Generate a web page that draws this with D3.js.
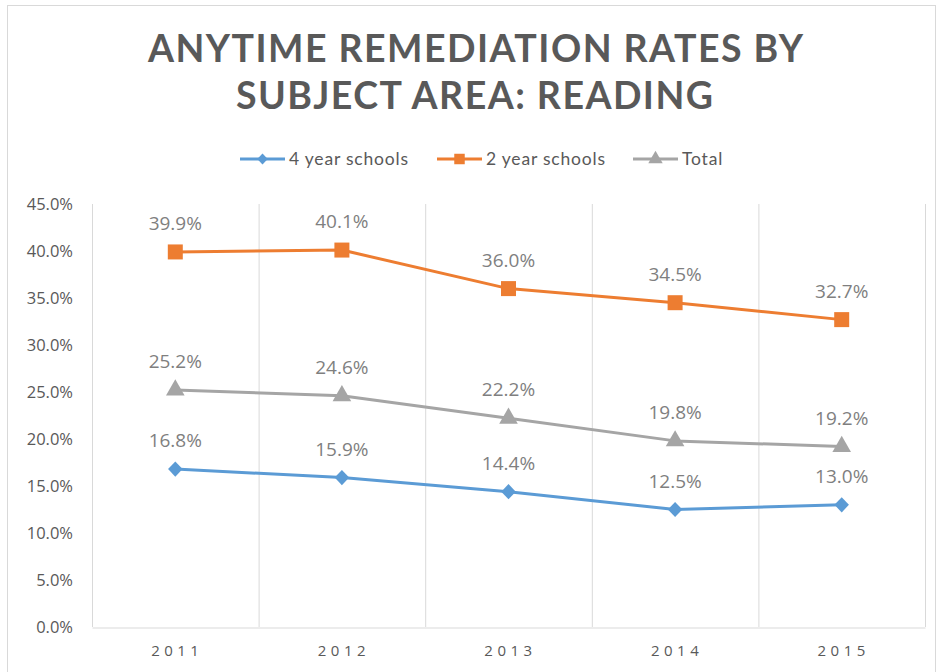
<!DOCTYPE html>
<html><head><meta charset="utf-8">
<script src="https://cdn.jsdelivr.net/npm/d3@7"></script>
<style>body{margin:0;background:#fff}svg{display:block}</style>
</head><body>
<svg id="c" width="939" height="672"></svg>
<script>
const years = ["2011","2012","2013","2014","2015"];
const fourYear = [16.8, 15.9, 14.4, 12.5, 13.0];
const twoYear = [39.9, 40.1, 36.0, 34.5, 32.7];
const total = [25.2, 24.6, 22.2, 19.8, 19.2];
const yTicks = [0,5,10,15,20,25,30,35,40,45];
const seriesNames = ["4 year schools","2 year schools","Total"];
const titleLines = ["ANYTIME REMEDIATION RATES BY","SUBJECT AREA: READING"];

const colors = ["#5B9BD5","#ED7D31","#A5A5A5"];
const diamond = {draw(ctx, size){const r=Math.sqrt(size)/2*1.0; ctx.moveTo(0,-r*1.05); ctx.lineTo(r,0); ctx.lineTo(0,r*1.05); ctx.lineTo(-r,0); ctx.closePath();}};
const shapes = [diamond, d3.symbolSquare, d3.symbolTriangle];
const series = [fourYear, twoYear, total].map((v,i)=>({name:seriesNames[i], values:v, color:colors[i], shape:shapes[i]}));

const svg = d3.select("#c");
const font = "'Open Sans', 'Liberation Sans', sans-serif";

svg.append("rect").attr("x",7.5).attr("y",5.5).attr("width",928).attr("height",680)
  .attr("fill","#fff").attr("stroke","#d9d9d9");

// title
const tl = svg.append("g");
const tStart = [148, 236], tLen = [655, 477], tBase = [62, 109];
titleLines.forEach((t,i)=>{
  tl.append("text").attr("x",tStart[i]).attr("y",tBase[i])
    .attr("font-family","Lato, 'Open Sans', sans-serif").attr("font-weight","bold")
    .attr("font-size",37.5).attr("fill","#595959")
    .attr("textLength", tLen[i]).attr("lengthAdjust","spacing").text(t);
});

const margin = {l:92, r:925, t:204, b:627};
const x = d3.scaleBand().domain(years).range([margin.l, margin.r]);
const y = d3.scaleLinear().domain([0,45]).range([margin.b, margin.t]);

// vertical gridlines at category boundaries
const bounds = years.map(d=>x(d)).concat([margin.r]);
svg.append("g").selectAll("line").data(bounds).join("line")
  .attr("x1",d=>d+0.5).attr("x2",d=>d+0.5).attr("y1",margin.t).attr("y2",margin.b)
  .attr("stroke","#d9d9d9").attr("stroke-width",1);

// x axis
const xa = svg.append("g").attr("transform",`translate(0,${margin.b+0.5})`)
  .call(d3.axisBottom(x).tickSize(0).tickPadding(18));
xa.select(".domain").attr("stroke","#d9d9d9");
xa.selectAll("text").attr("font-family",font).attr("font-size",15).attr("fill","#595959")
  .attr("letter-spacing","4.5px").attr("dx","2px");

// y axis
const ya = svg.append("g").attr("transform",`translate(${margin.l},0)`)
  .call(d3.axisLeft(y).tickValues(yTicks).tickSize(0).tickPadding(19).tickFormat(d=>d.toFixed(1)+"%"));
ya.select(".domain").remove();
ya.selectAll("text").attr("font-family",font).attr("font-size",16.5).attr("fill","#595959");

const cx = d=>x(d)+x.bandwidth()/2;
const line = d3.line().x((d,i)=>cx(years[i])).y(d=>y(d));

series.forEach(s=>{
  svg.append("path").datum(s.values).attr("d",line).attr("fill","none")
    .attr("stroke",s.color).attr("stroke-width",3).attr("stroke-linejoin","round");
});
series.forEach(s=>{
  const size = s.shape===d3.symbolSquare?225: s.shape===diamond?210:150;
  svg.append("g").selectAll("path").data(s.values).join("path")
    .attr("transform",(d,i)=>`translate(${cx(years[i])},${y(d)})`)
    .attr("d",d3.symbol().type(s.shape).size(size)).attr("fill",s.color);
  svg.append("g").selectAll("text").data(s.values).join("text")
    .attr("x",(d,i)=>cx(years[i])).attr("y",d=>y(d)-22)
    .attr("text-anchor","middle").attr("font-family",font).attr("font-size",19)
    .attr("fill","#7f7f7f").text(d=>d.toFixed(1)+"%");
});

// legend
const legX = [240, 437, 633];
series.forEach((s,i)=>{
  const g = svg.append("g").attr("transform",`translate(${legX[i]},159)`);
  g.append("line").attr("x1",0).attr("x2",45).attr("stroke",s.color).attr("stroke-width",3);
  g.append("path").attr("transform","translate(22.5,0)")
    .attr("d",d3.symbol().type(s.shape).size(s.shape===d3.symbolSquare?110:s.shape===diamond?110:90)).attr("fill",s.color);
  g.append("text").attr("x",49).attr("y",6).attr("font-family","Lato, 'Open Sans', sans-serif").attr("font-size",17.5)
    .attr("letter-spacing","0.8px").attr("fill","#595959").text(s.name);
});
</script>
</body></html>
